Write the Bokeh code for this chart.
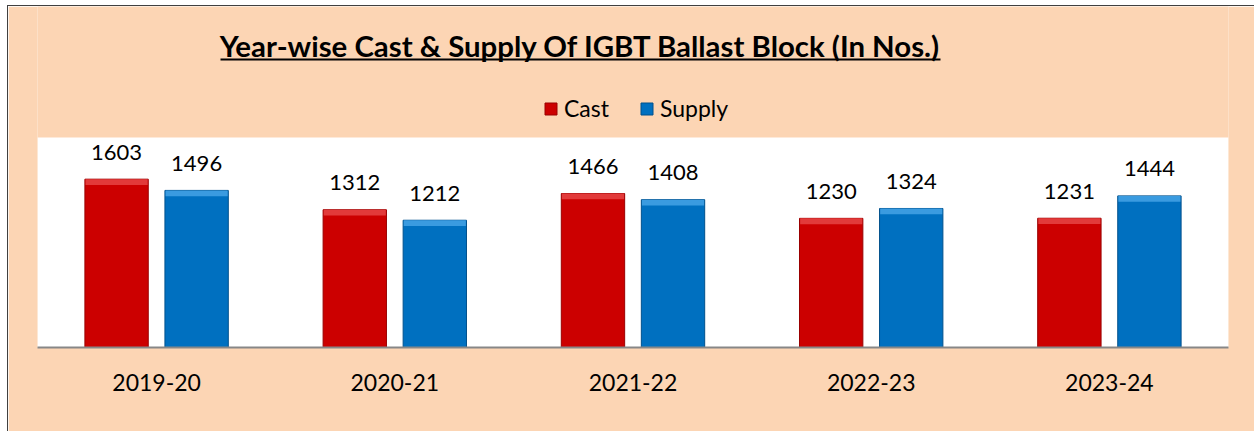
from bokeh.plotting import figure
from bokeh.models import ColumnDataSource, Range1d, Legend, LegendItem, Label, BoxAnnotation
from bokeh.transform import dodge
from bokeh.core.properties import value
from bokeh.embed import file_html
from bokeh.resources import INLINE

years = ["2019-20", "2020-21", "2021-22", "2022-23", "2023-24"]
cast = [1603, 1312, 1466, 1230, 1231]
supply = [1496, 1212, 1408, 1324, 1444]
title_text = "Year-wise Cast & Supply Of IGBT Ballast Block (In Nos.)"

Y_MAX = 2000      # top of the white plotting area (value axis maximum)
BAND = 55         # bevel band height in data units (decoration)

src = ColumnDataSource(dict(
    year=years,
    cast=cast,
    supply=supply,
    cast_band=[v - BAND for v in cast],
    supply_band=[v - BAND for v in supply],
    cast_lbl=[str(v) for v in cast],
    supply_lbl=[str(v) for v in supply],
))

PEACH = "#FCD5B4"
FONT = "Lato"

# frame spans from the top of the canvas down to the category axis;
# white value area (0..Y_MAX) occupies the lower 210 px of it
FRAME_H = 341
y_end = Y_MAX * FRAME_H / 210.0

p = figure(x_range=years, y_range=Range1d(0, y_end), width=1247, height=426,
           output_backend="svg", toolbar_location=None, title=None,
           min_border_left=29, min_border_right=27, min_border_top=0, min_border_bottom=85,
           styles={"margin-left": "7px", "margin-top": "5px",
                   "border-left": "1px solid #404040", "border-top": "1px solid #404040"})
p.background_fill_color = PEACH
p.border_fill_color = PEACH
p.outline_line_color = None
p.xgrid.visible = False
p.ygrid.visible = False
p.yaxis.visible = False

# white plotting area
p.add_layout(BoxAnnotation(bottom=0, top=Y_MAX, fill_color="white", fill_alpha=1,
                           line_color=None, level="underlay"))

ax = p.xaxis[0]
ax.axis_line_color = "#878787"
ax.axis_line_width = 2
ax.major_tick_line_color = None
ax.minor_tick_line_color = None
ax.major_tick_out = 0
ax.major_tick_in = 0
ax.major_label_standoff = 26
ax.major_label_text_font = FONT
ax.major_label_text_font_size = "23px"
ax.major_label_text_color = "black"

OFF = 0.168
W = 0.266
xc = dodge("year", -OFF, range=p.x_range)
xs = dodge("year", OFF, range=p.x_range)

r_cast = p.vbar(x=xc, top="cast", width=W, source=src,
                fill_color="#CC0000", line_color="#9A0000", line_width=1)
p.vbar(x=xc, top="cast", bottom="cast_band", width=W * 0.98, source=src,
       fill_color="#E23A3A", line_color=None)
r_sup = p.vbar(x=xs, top="supply", width=W, source=src,
               fill_color="#0070C0", line_color="#00508C", line_width=1)
p.vbar(x=xs, top="supply", bottom="supply_band", width=W * 0.98, source=src,
       fill_color="#3A9BE0", line_color=None)

p.text(x=xc, y="cast", text="cast_lbl", source=src, text_align="center",
       text_baseline="alphabetic", y_offset=-27, text_font=value(FONT),
       text_font_size="22px", text_color="black")
p.text(x=xs, y="supply", text="supply_lbl", source=src, text_align="center",
       text_baseline="alphabetic", y_offset=-27, text_font=value(FONT),
       text_font_size="22px", text_color="black")

legend = Legend(items=[LegendItem(label="Cast", renderers=[r_cast]),
                       LegendItem(label="Supply", renderers=[r_sup])],
                orientation="horizontal", location=(506, 225),
                background_fill_alpha=0, border_line_color=None,
                label_text_font=FONT, label_text_font_size="23px",
                label_text_color="black",
                glyph_width=15, glyph_height=15, spacing=30, label_standoff=6,
                padding=0, margin=0)
p.add_layout(legend)

title = Label(x=543, y=302, x_units="screen", y_units="screen", text=title_text,
              text_align="center", text_baseline="alphabetic", text_font=FONT,
              text_font_style="bold", text_font_size="29.4px", text_color="black")
p.add_layout(title)

underline = BoxAnnotation(left=183, right=903, top=289, bottom=287,
                          left_units="screen", right_units="screen",
                          top_units="screen", bottom_units="screen",
                          fill_color="black", fill_alpha=1, line_color=None)
p.add_layout(underline)

open("out.html", "w").write(file_html(p, INLINE))
